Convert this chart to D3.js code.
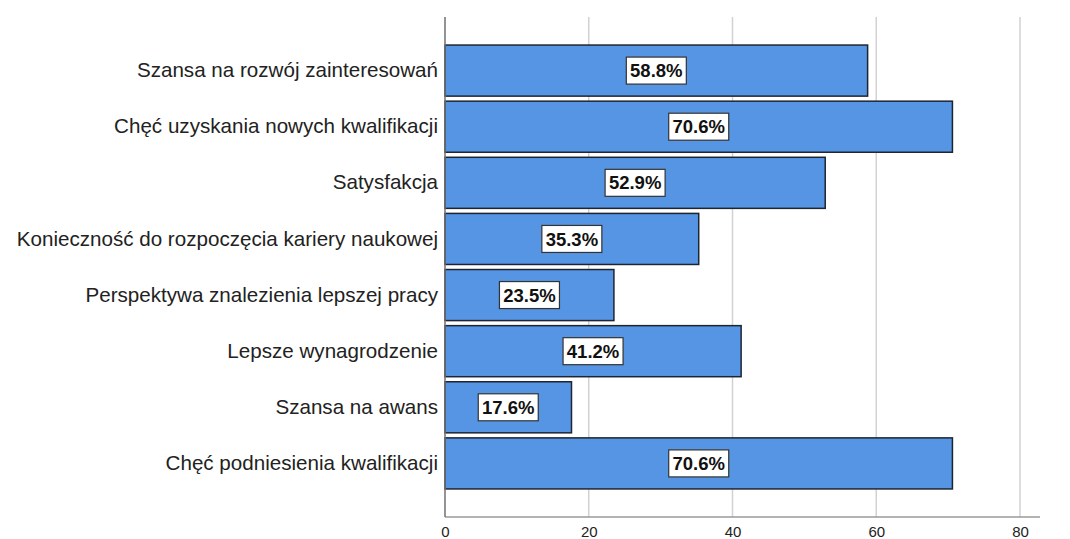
<!DOCTYPE html>
<html>
<head>
<meta charset="utf-8">
<script src="https://cdn.jsdelivr.net/npm/d3@7"></script>
<style>
  body { margin: 0; background: #fff; }
  svg { display: block; font-family: "Liberation Sans", Arial, sans-serif; }
</style>
</head>
<body>
<div id="wrapper"></div>
<script>
// categories, top to bottom
const categories = [
  "Szansa na rozwój zainteresowań",
  "Chęć uzyskania nowych kwalifikacji",
  "Satysfakcja",
  "Konieczność do rozpoczęcia kariery naukowej",
  "Perspektywa znalezienia lepszej pracy",
  "Lepsze wynagrodzenie",
  "Szansa na awans",
  "Chęć podniesienia kwalifikacji"
]

// percent values
const values = [58.8, 70.6, 52.9, 35.3, 23.5, 41.2, 17.6, 70.6]

const xTicks = [0, 20, 40, 60, 80]

function drawBars() {
  const dataset = categories.map((c, i) => ({ category: c, value: values[i] }))

  const xAccessor = d => d.value
  const yAccessor = d => d.category

  let dimensions = {
    width: 1070,
    height: 539,
    margin: { top: 17, right: 30, bottom: 22, left: 445 }
  }
  dimensions.boundedWidth = dimensions.width - dimensions.margin.left - dimensions.margin.right
  dimensions.boundedHeight = dimensions.height - dimensions.margin.top - dimensions.margin.bottom

  const wrapper = d3.select("#wrapper")
    .append("svg")
      .attr("width", dimensions.width)
      .attr("height", dimensions.height)

  const bounds = wrapper.append("g")
    .attr("transform", `translate(${dimensions.margin.left},${dimensions.margin.top})`)

  // 20 units ~ 143.8px
  const xScale = d3.scaleLinear()
    .domain([0, 80])
    .range([0, 575])

  const yScale = d3.scaleBand()
    .domain(categories)
    .range([0, dimensions.boundedHeight])
    .paddingInner(0.09)
    .paddingOuter(0.5)

  // gridlines
  bounds.append("g")
    .selectAll("line")
    .data(xTicks.slice(1))
    .join("line")
      .attr("x1", d => xScale(d))
      .attr("x2", d => xScale(d))
      .attr("y1", 0)
      .attr("y2", dimensions.boundedHeight)
      .attr("stroke", "#d2d2d2")
      .attr("stroke-width", 1.5)

  // bars
  bounds.append("g")
    .selectAll("rect")
    .data(dataset)
    .join("rect")
      .attr("x", 0)
      .attr("y", d => yScale(yAccessor(d)))
      .attr("width", d => xScale(xAccessor(d)))
      .attr("height", yScale.bandwidth())
      .attr("fill", "#5595e3")
      .attr("stroke", "#1e2530")
      .attr("stroke-width", 1.5)

  // value labels
  const labels = bounds.append("g")
    .selectAll("g")
    .data(dataset)
    .join("g")
      .attr("transform", d => `translate(${xScale(xAccessor(d)) / 2},${yScale(yAccessor(d)) + yScale.bandwidth() / 2})`)

  labels.append("rect")
    .attr("x", -30)
    .attr("y", -13.5)
    .attr("width", 60)
    .attr("height", 27)
    .attr("fill", "#fff")
    .attr("stroke", "#333")
    .attr("stroke-width", 1.2)

  labels.append("text")
    .attr("text-anchor", "middle")
    .attr("dy", "0.36em")
    .style("font-size", "18.5px")
    .style("font-weight", "bold")
    .attr("fill", "#111")
    .text(d => d3.format(".1f")(xAccessor(d)) + "%")

  // x axis
  const xAxisGenerator = d3.axisBottom(xScale)
    .tickValues(xTicks)
    .tickSize(0)
    .tickPadding(9)

  const xAxis = bounds.append("g")
    .attr("transform", `translate(0,${dimensions.boundedHeight})`)
    .call(xAxisGenerator)
  xAxis.select(".domain").remove()
  xAxis.selectAll("text")
    .style("font-size", "15px")
    .style("font-family", "'Liberation Sans', Arial, sans-serif")
    .attr("fill", "#222")

  bounds.append("line")
    .attr("x1", 0)
    .attr("x2", 595)
    .attr("y1", dimensions.boundedHeight)
    .attr("y2", dimensions.boundedHeight)
    .attr("stroke", "#9a9a9a")
    .attr("stroke-width", 1.5)

  // y axis
  const yAxisGenerator = d3.axisLeft(yScale)
    .tickSize(0)
    .tickPadding(7)

  const yAxis = bounds.append("g")
    .call(yAxisGenerator)
  yAxis.select(".domain").remove()
  yAxis.selectAll("text")
    .style("font-size", "20.6px")
    .style("font-family", "'Liberation Sans', Arial, sans-serif")
    .attr("fill", "#222")

  bounds.append("line")
    .attr("x1", 0)
    .attr("x2", 0)
    .attr("y1", 0)
    .attr("y2", dimensions.boundedHeight)
    .attr("stroke", "#707070")
    .attr("stroke-width", 1.5)
}
drawBars()
</script>
</body>
</html>
